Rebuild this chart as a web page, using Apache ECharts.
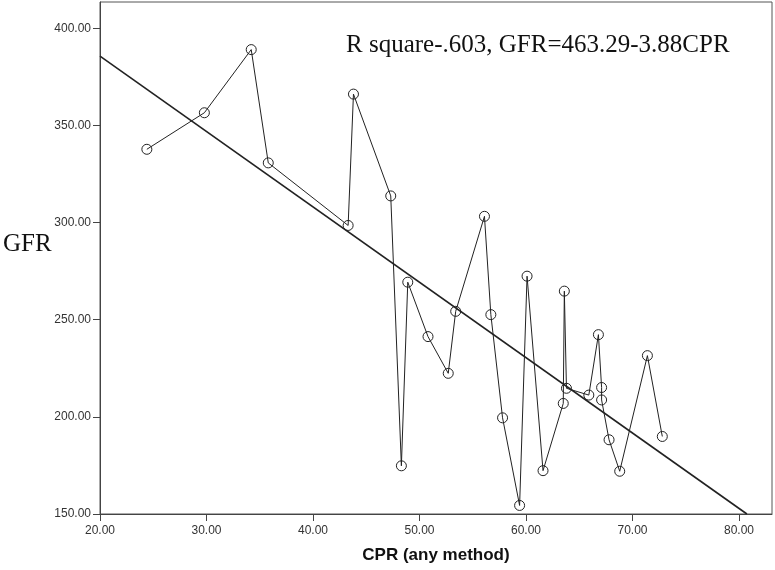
<!DOCTYPE html>
<html>
<head>
<meta charset="utf-8">
<script src="https://cdn.jsdelivr.net/npm/echarts@6/dist/echarts.min.js"></script>
<style>
  html, body { margin: 0; padding: 0; background: #fff; }
  #main { width: 775px; height: 570px; }
</style>
</head>
<body>
<div id="main"></div>
<script>
  // CPR vs GFR, points joined in order of CPR
  var cpr = [24.4, 29.8, 34.2, 35.8, 43.3, 43.8, 47.3, 48.3, 48.9, 50.8, 52.7, 53.4, 56.1, 56.7, 57.8,
             59.4, 60.1, 61.6, 63.5, 63.6, 63.8, 65.9, 66.8, 67.1, 67.1, 67.8, 68.8, 71.4, 72.8];
  var gfr = [337.7, 356.5, 389.0, 330.7, 298.5, 366.1, 313.7, 174.8, 269.3, 241.3, 222.4, 254.3, 303.2, 252.6, 199.5,
             154.4, 272.4, 172.3, 206.9, 264.7, 214.7, 211.2, 242.3, 215.1, 208.7, 188.2, 172.0, 231.5, 189.9];

  // fitted line GFR = 463.29 - 3.88 CPR
  var intercept = 463.29, slope = -3.88;
  var fitStart = 20;
  var xTicks = [20, 30, 40, 50, 60, 70, 80];
  var yTicks = [150, 200, 250, 300, 350, 400];

  var fitEnd = (150 - intercept) / slope;
  var fitLine = [[fitStart, intercept + slope * fitStart], [fitEnd, intercept + slope * fitEnd]];
  var points = cpr.map(function (c, i) { return [c, gfr[i]]; });

  var myChart = echarts.init(document.getElementById('main'));
  var option = {
    backgroundColor: '#fff',
    animation: false,
    grid: {
      left: 100, top: 2, right: 3, bottom: 56,
      show: true, borderColor: '#555', borderWidth: 1
    },
    xAxis: {
      type: 'value', min: 20, max: 83.1,
      name: 'CPR (any method)', nameLocation: 'middle', nameGap: 33,
      nameTextStyle: { fontFamily: 'Liberation Sans', fontWeight: 'bold', fontSize: 17, color: '#111' },
      axisLine: { lineStyle: { color: '#444' } },
      axisTick: { show: true, length: 7, customValues: xTicks, lineStyle: { color: '#444' } },
      axisLabel: {
        customValues: xTicks, margin: 11, fontFamily: 'Liberation Sans', fontSize: 12, color: '#333',
        formatter: function (v) { return v.toFixed(2); }
      },
      splitLine: { show: false }
    },
    yAxis: {
      type: 'value', min: 150, max: 413.5,
      axisLine: { show: true, lineStyle: { color: '#444' } },
      axisTick: { show: true, length: 7, customValues: yTicks, lineStyle: { color: '#444' } },
      axisLabel: {
        customValues: yTicks, margin: 9, fontFamily: 'Liberation Sans', fontSize: 12, color: '#333',
        formatter: function (v) { return v.toFixed(2); }
      },
      splitLine: { show: false }
    },
    graphic: [
      {
        type: 'text', left: 3, top: 232,
        style: { text: 'GFR', font: '25px "Liberation Serif"', fill: '#111' }
      },
      {
        type: 'text', left: 346, top: 33,
        style: { text: 'R square-.603, GFR=463.29-3.88CPR', font: '25px "Liberation Serif"', fill: '#111' }
      }
    ],
    series: [
      {
        type: 'line', data: fitLine, symbol: 'none',
        lineStyle: { color: '#222', width: 1.6 }, z: 2
      },
      {
        type: 'line', data: points,
        symbol: 'circle', symbolSize: 10,
        lineStyle: { color: '#222', width: 1 },
        itemStyle: { color: 'rgba(255,255,255,0)', borderColor: '#222', borderWidth: 1 },
        z: 3
      }
    ]
  };
  myChart.setOption(option);
</script>
</body>
</html>
